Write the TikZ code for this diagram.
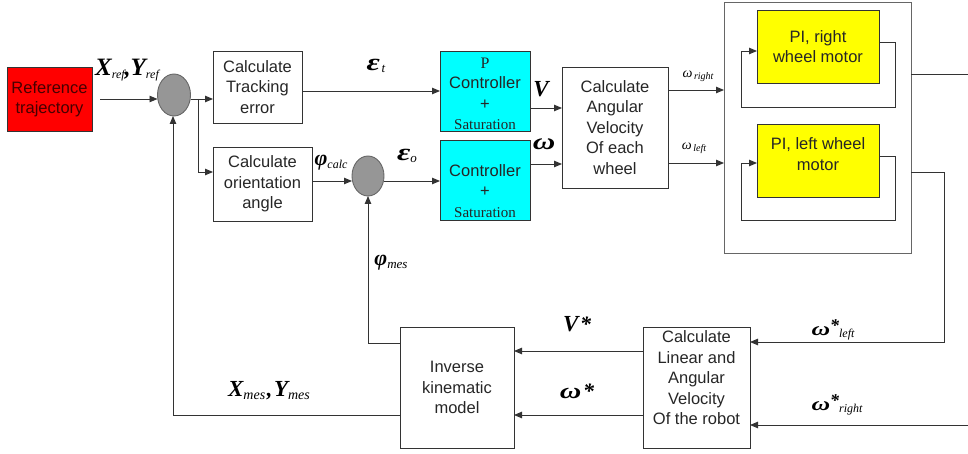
\documentclass[tikz,border=0pt]{standalone}
\usepackage{graphicx}
\usepackage{fontspec}
\setmainfont{Liberation Sans}
\newfontfamily\tnr{Liberation Serif}
\usetikzlibrary{arrows.meta,shapes.geometric,calc}
\definecolor{refred}{RGB}{255,0,0}
\definecolor{sumgray}{RGB}{150,150,150}
\definecolor{ctrlcyan}{RGB}{0,255,255}
\definecolor{piyellow}{RGB}{255,255,0}
\definecolor{reftext}{RGB}{70,0,0}
\newcommand\bsym[2][24]{{\tnr\fontsize{#1}{#1}\selectfont\bfseries\itshape #2}}
\newcommand\wsym[2][24]{\scalebox{1.35}[1]{\bsym[#1]{#2}}}
\newcommand\ssub[2][12]{\raisebox{-0.45ex}{\tnr\fontsize{#1}{#1}\selectfont\itshape #2}}
\newcommand\serifsm[2][15]{{\tnr\fontsize{#1}{16}\selectfont #2}}
\begin{document}
\begin{tikzpicture}[x=1pt,y=-1pt,
  box/.style={draw=black!80, line width=0.9pt, inner sep=0pt, outer sep=0pt, align=center,
    text=black!85, font=\fontsize{16.5}{20.5}\selectfont},
  txt/.style={inner sep=0pt, outer sep=0pt, align=center, text=black!85, font=\fontsize{16.5}{20.5}\selectfont},
  sumnode/.style={ellipse, draw=black!60, line width=0.9pt, fill=sumgray, inner sep=0pt, outer sep=0pt,
    minimum width=33pt, minimum height=42pt},
  lab/.style={inner sep=0pt, outer sep=0pt, text=black},
  conn/.style={draw=black!80, line width=0.9pt},
  arr/.style={conn, -{Triangle[length=8pt,width=6.5pt]}}]
\useasboundingbox (0,0) rectangle (968,454);

% blocks
\node[box, fill=refred, text=reftext, minimum width=85pt, minimum height=64pt] (ref) at (49.5,99) {Reference\\trajectory};
\node[sumnode] (sum1) at (174,95) {};
\node[box, minimum width=89pt, minimum height=72pt] (track) at (257.5,87) {Calculate\\Tracking\\error};
\node[box, minimum width=99pt, minimum height=74pt] (orient) at (262.5,184) {Calculate\\orientation\\angle};
\node[sumnode, minimum width=32pt, minimum height=40pt] (sum2) at (368,176) {};
\node[box, fill=ctrlcyan, minimum width=90pt, minimum height=80pt] (pctrl) at (485,91) {};
\node[txt] (pctrlt) at (485,94)
  {\serifsm[16]{P}\\Controller\\+\\\serifsm{Saturation}};
\node[box, fill=ctrlcyan, minimum width=90pt, minimum height=80pt] (ctrl) at (485,180) {};
\node[txt] (ctrlt) at (485,191) {Controller\\+\\\serifsm{Saturation}};
\node[box, minimum width=106pt, minimum height=121pt] (angvel) at (615,127.5)
  {Calculate\\Angular\\Velocity\\Of each\\wheel};
\node[box, draw=black!60, minimum width=187pt, minimum height=251pt] (big) at (817.5,127.5) {};
\node[box, fill=piyellow, minimum width=122pt, minimum height=73pt] (pir) at (818,46.5) {PI, right\\wheel motor};
\node[box, fill=piyellow, minimum width=122pt, minimum height=73pt] (pil) at (818,160.5) {};
\node[txt] (pilt) at (818,154) {PI, left wheel\\motor};
\node[box, minimum width=114pt, minimum height=121pt] (invk) at (457,387.5) {Inverse\\kinematic\\model};
\node[box, minimum width=107pt, minimum height=121pt] (robot) at (696.5,387.5) {};
\node[txt] (robott) at (696.5,378) {Calculate\\Linear and\\Angular\\Velocity\\Of the robot};

% free ends
\coordinate (outr) at (968,74);
\coordinate (inr) at (968,425);
\coordinate (br) at (198,99);

% connectors
\draw[arr, shorten <=8pt] (ref.east) -- (ref.east -| sum1.west);
\draw[arr] (ref.east -| sum1.east) -- (ref.east -| track.west);
\draw[arr] (br) |- ([yshift=12pt]orient.west);
\draw[arr] (pctrl.west -| track.east) -- (pctrl.west);
\draw[arr] ([yshift=3pt]orient.east) -- ([yshift=3pt]orient.east -| sum2.west);
\draw[arr] ([yshift=3pt]orient.east -| sum2.east) -- ([yshift=3pt]orient.east -| ctrl.west);
\draw[arr] ([yshift=-17pt]pctrl.east) -- ([yshift=-17pt]pctrl.east -| angvel.west);
\draw[arr] ([yshift=16pt]ctrl.east) -- ([yshift=16pt]ctrl.east -| angvel.west);
\draw[arr] ([yshift=37.5pt]angvel.east) -- ([yshift=37.5pt]angvel.east -| big.west);
\draw[arr] ([yshift=-35.5pt]angvel.east) -- ([yshift=-35.5pt]angvel.east -| big.west);
% PI inner loops
\draw[arr] ([yshift=4.5pt]pir.east) -- ++(16,0) |- ($(pir.west)+(-16,60.5)$) |- ([yshift=-4.5pt]pir.west);
\draw[arr] ([yshift=4.5pt]pil.east) -- ++(16,0) |- ($(pil.west)+(-16,59.5)$) |- ([yshift=-2.5pt]pil.west);
% outputs of motor block
\draw[conn] (big.east |- outr) -- (outr);
\draw[arr] ([yshift=-44.5pt]big.east) -- ++(33,0) |- ([yshift=45.5pt]robot.east);
\draw[arr] (inr) -- (inr -| robot.east);
% robot to inverse kinematics
\draw[arr] ([yshift=36.5pt]robot.west) -- ([yshift=36.5pt]robot.west -| invk.east);
\draw[arr] ([yshift=-27.5pt]robot.west) -- ([yshift=-27.5pt]robot.west -| invk.east);
% feedback
\draw[arr] ([yshift=44.5pt]invk.west) -| (sum2.south);
\draw[arr] ([yshift=-27.5pt]invk.west) -| ([xshift=-1pt]sum1.south);

% labels
\node[lab] (lxref) at (127,70) {\bsym[25]{X}\ssub{ref}\bsym{,}\bsym[25]{Y}\ssub{ref}};
\node[lab] (let) at (376,66) {\wsym{ε}\,\ssub[13]{t}};
\node[lab] (lv) at (541,89) {\bsym[23]{V}};
\node[lab] (lw) at (544,144) {\wsym[23]{ω}};
\node[lab] (lphic) at (331,163) {\bsym[22]{φ}\ssub[12]{calc}};
\node[lab] (leo) at (407,156) {\wsym{ε}\ssub[13]{o}};
\node[lab] (lphim) at (391,263) {\bsym[22]{φ}\ssub[13]{mes}};
\node[lab] (lwr) at (698,76) {{\tnr\itshape\fontsize{14}{14}\selectfont ω}\,\ssub[10]{right}};
\node[lab] (lwl) at (694,148) {{\tnr\itshape\fontsize{14}{14}\selectfont ω}\,\ssub[10]{left}};
\node[lab] (lvs) at (577,324) {\bsym[23]{V}\,\bsym[22]{*}};
\node[lab] (lws) at (577,391) {\wsym[22]{ω}\,\bsym[22]{*}};
\node[lab] (lxm) at (269,391) {\bsym[23]{X}\ssub[14]{mes}\,\bsym[22]{,}\,\bsym[23]{Y}\ssub[14]{mes}};
\node[lab] (lwsl) at (833,330) {\wsym[19]{ω}\raisebox{0.6ex}{\bsym[18]{*}}\ssub[12]{left}};
\node[lab] (lwsr) at (837,405) {\wsym[19]{ω}\raisebox{0.6ex}{\bsym[18]{*}}\ssub[12]{right}};
\end{tikzpicture}
\end{document}
